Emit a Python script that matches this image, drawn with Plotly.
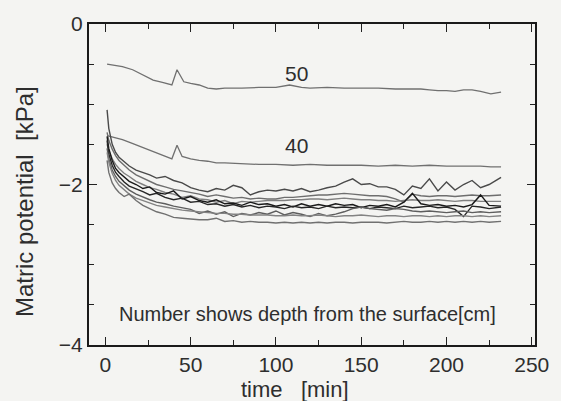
import plotly.graph_objects as go

# Matric potential at several depths (kPa) against elapsed time (min)

# depth 50 cm and 40 cm sensors
t_50 = [1, 5, 10, 16, 22, 28, 34, 39, 42, 46, 50, 55, 60, 65, 70, 75, 80, 90, 100, 108, 115, 120,
        130, 140, 150, 160, 170, 180, 185, 190, 195, 200, 205, 210, 215, 220, 226, 232]
v_50 = [-0.50, -0.51, -0.53, -0.57, -0.63, -0.70, -0.73, -0.76, -0.57, -0.72, -0.74, -0.76, -0.80, -0.81,
        -0.80, -0.80, -0.80, -0.79, -0.79, -0.76, -0.79, -0.80, -0.79, -0.80, -0.80, -0.80, -0.81, -0.81,
        -0.81, -0.82, -0.83, -0.83, -0.84, -0.82, -0.82, -0.84, -0.87, -0.85]

t_40 = [1, 5, 10, 15, 20, 25, 30, 35, 39, 42, 45, 50, 55, 60, 65, 70, 78, 90, 100, 110, 120, 130,
        140, 150, 160, 170, 180, 190, 200, 210, 220, 226, 232]
v_40 = [-1.39, -1.41, -1.44, -1.48, -1.52, -1.56, -1.60, -1.64, -1.68, -1.51, -1.65, -1.68, -1.70, -1.71,
        -1.73, -1.73, -1.74, -1.75, -1.75, -1.76, -1.75, -1.76, -1.76, -1.76, -1.77, -1.76, -1.77, -1.76,
        -1.77, -1.77, -1.77, -1.78, -1.78]

# shallower sensors share one sampling grid
t_shallow = [1, 2, 4, 6, 8, 11, 14, 18, 22, 26, 30, 35, 40, 45, 50, 55, 60, 65, 70, 75, 80, 85, 90, 95,
             100, 105, 110, 115, 120, 125, 130, 135, 140, 145, 150, 155, 160, 165, 170, 175, 180, 185,
             190, 195, 200, 205, 210, 215, 220, 225, 232]

v_a = [-1.07, -1.30, -1.50, -1.60, -1.66, -1.72, -1.77, -1.82, -1.85, -1.88, -1.92, -1.90, -1.95, -1.98,
       -2.04, -2.07, -2.09, -2.05, -2.07, -2.01, -2.04, -2.13, -2.09, -2.07, -2.08, -2.06, -2.08, -2.05,
       -2.09, -2.07, -2.04, -2.02, -1.97, -1.93, -2.00, -1.99, -2.03, -2.03, -2.06, -2.13, -2.02, -2.05,
       -1.93, -2.08, -1.97, -2.07, -2.00, -1.95, -2.04, -2.00, -1.91]
v_b = [-1.35, -1.45, -1.56, -1.64, -1.70, -1.76, -1.82, -1.88, -1.92, -1.97, -2.00, -2.03, -2.06, -2.08,
       -2.10, -2.12, -2.15, -2.13, -2.15, -2.17, -2.16, -2.18, -2.17, -2.18, -2.18, -2.16, -2.16, -2.15,
       -2.14, -2.13, -2.13, -2.12, -2.11, -2.12, -2.13, -2.14, -2.14, -2.15, -2.18, -2.22, -2.12, -2.14,
       -2.15, -2.14, -2.14, -2.15, -2.14, -2.13, -2.14, -2.14, -2.13]
v_c = [-1.50, -1.58, -1.68, -1.75, -1.80, -1.86, -1.90, -1.96, -2.00, -2.04, -2.06, -2.10, -2.12, -2.16,
       -2.14, -2.18, -2.19, -2.22, -2.20, -2.24, -2.21, -2.22, -2.21, -2.20, -2.20, -2.20, -2.19, -2.19,
       -2.18, -2.18, -2.19, -2.18, -2.17, -2.18, -2.19, -2.19, -2.20, -2.20, -2.21, -2.20, -2.19, -2.20,
       -2.20, -2.19, -2.20, -2.21, -2.20, -2.20, -2.21, -2.21, -2.21]
v_d = [-1.40, -1.55, -1.70, -1.80, -1.85, -1.90, -1.96, -2.00, -2.05, -2.03, -2.10, -2.12, -2.08, -2.18,
       -2.15, -2.20, -2.22, -2.19, -2.24, -2.23, -2.26, -2.22, -2.25, -2.24, -2.27, -2.25, -2.28, -2.24,
       -2.27, -2.25, -2.27, -2.24, -2.26, -2.25, -2.29, -2.26, -2.27, -2.25, -2.28, -2.22, -2.11, -2.24,
       -2.26, -2.25, -2.27, -2.26, -2.28, -2.25, -2.13, -2.26, -2.27]
v_e = [-1.45, -1.62, -1.76, -1.85, -1.90, -1.97, -2.02, -2.06, -2.09, -2.13, -2.11, -2.16, -2.19, -2.17,
       -2.22, -2.21, -2.25, -2.24, -2.27, -2.25, -2.28, -2.26, -2.29, -2.27, -2.28, -2.30, -2.27, -2.29,
       -2.28, -2.30, -2.27, -2.29, -2.28, -2.29, -2.28, -2.30, -2.28, -2.29, -2.30, -2.27, -2.29, -2.28,
       -2.27, -2.29, -2.28, -2.31, -2.40, -2.27, -2.28, -2.30, -2.28]
v_f = [-1.55, -1.68, -1.82, -1.90, -1.96, -2.02, -2.07, -2.12, -2.16, -2.19, -2.22, -2.24, -2.27, -2.29,
       -2.31, -2.36, -2.33, -2.37, -2.34, -2.40, -2.36, -2.38, -2.35, -2.37, -2.33, -2.38, -2.35, -2.37,
       -2.40, -2.36, -2.39, -2.37, -2.34, -2.30, -2.28, -2.30, -2.31, -2.32, -2.30, -2.31, -2.33, -2.34,
       -2.33, -2.34, -2.35, -2.34, -2.33, -2.35, -2.34, -2.35, -2.34]
v_g = [-1.60, -1.72, -1.86, -1.95, -2.01, -2.07, -2.12, -2.17, -2.20, -2.23, -2.26, -2.28, -2.30, -2.32,
       -2.33, -2.34, -2.35, -2.36, -2.36, -2.37, -2.37, -2.38, -2.38, -2.38, -2.39, -2.39, -2.38, -2.39,
       -2.39, -2.38, -2.39, -2.40, -2.39, -2.39, -2.38, -2.39, -2.40, -2.39, -2.39, -2.40, -2.39, -2.39,
       -2.40, -2.39, -2.40, -2.39, -2.39, -2.40, -2.39, -2.40, -2.39]
v_h = [-1.70, -1.85, -1.98, -2.05, -2.10, -2.15, -2.12, -2.20, -2.26, -2.30, -2.34, -2.37, -2.41, -2.42,
       -2.43, -2.44, -2.44, -2.42, -2.46, -2.45, -2.47, -2.46, -2.47, -2.47, -2.48, -2.47, -2.48, -2.47,
       -2.48, -2.47, -2.48, -2.47, -2.47, -2.48, -2.47, -2.47, -2.47, -2.48, -2.47, -2.46, -2.47, -2.47,
       -2.46, -2.47, -2.46, -2.47, -2.46, -2.47, -2.46, -2.47, -2.46]

shallow_series = [v_a, v_b, v_c, v_d, v_e, v_f, v_g, v_h]
shallow_colors = ["#4a4a4a", "#6e6e6e", "#808080", "#1a1a1a", "#262626", "#5e5e5e", "#838383", "#707070"]

depth_labels = ["50", "40"]

fig = go.Figure()

fig.add_trace(go.Scatter(x=t_50, y=v_50, mode="lines", line=dict(color="#707070", width=1.3),
                         showlegend=False, hoverinfo="skip"))
fig.add_trace(go.Scatter(x=t_40, y=v_40, mode="lines", line=dict(color="#707070", width=1.3),
                         showlegend=False, hoverinfo="skip"))
for vals, col in zip(shallow_series, shallow_colors):
    fig.add_trace(go.Scatter(x=t_shallow, y=vals, mode="lines", line=dict(color=col, width=1.4),
                             showlegend=False, hoverinfo="skip"))

font_family = "Liberation Sans, Arial, sans-serif"
ink = "#2e2e2e"

annotations = [
    dict(x=112, y=-0.62, xref="x", yref="y", text=depth_labels[0], showarrow=False,
         xanchor="center", yanchor="middle", font=dict(size=21, color=ink, family=font_family)),
    dict(x=112, y=-1.52, xref="x", yref="y", text=depth_labels[1], showarrow=False,
         xanchor="center", yanchor="middle", font=dict(size=21, color=ink, family=font_family)),
    dict(x=0.49, y=0.098, xref="paper", yref="paper", text="Number shows depth from the surface[cm]",
         showarrow=False, xanchor="center", yanchor="middle",
         font=dict(size=20, color=ink, family=font_family)),
    dict(x=0.461, y=-0.138, xref="paper", yref="paper", text="time&nbsp;&nbsp;&nbsp;[min]",
         showarrow=False, xanchor="center", yanchor="middle",
         font=dict(size=22, color=ink, family=font_family)),
    dict(x=-0.143, y=0.446, xref="paper", yref="paper", text="Matric potential&nbsp;&nbsp;[kPa]",
         showarrow=False, textangle=-90, xanchor="center", yanchor="middle",
         font=dict(size=24, color=ink, family=font_family)),
]

fig.update_layout(
    width=561, height=401,
    margin=dict(l=89, r=19, t=20, b=56),
    paper_bgcolor="#f4f4f2",
    plot_bgcolor="#f4f4f2",
    annotations=annotations,
    font=dict(family=font_family, color=ink, size=21),
    xaxis=dict(
        range=[-9.6, 251.9], tickvals=[0, 50, 100, 150, 200, 250],
        ticks="inside", ticklen=8, tickwidth=1.3, tickcolor="#222",
        minor=dict(tickvals=[25, 75, 125, 175, 225], ticks="inside", ticklen=5, tickwidth=1.2, tickcolor="#222"),
        showline=True, linecolor="#1a1a1a", linewidth=2, mirror="allticks",
        showgrid=False, zeroline=False, tickfont=dict(size=21, color=ink),
    ),
    yaxis=dict(
        range=[-4, 0], tickvals=[0, -2, -4],
        ticks="inside", ticklen=8, tickwidth=1.3, tickcolor="#222",
        minor=dict(tickvals=[-0.5, -1, -1.5, -2.5, -3, -3.5], ticks="inside", ticklen=5, tickwidth=1.2, tickcolor="#222"),
        showline=True, linecolor="#1a1a1a", linewidth=2, mirror="allticks",
        showgrid=False, zeroline=False, tickfont=dict(size=21, color=ink),
    ),
)

fig.write_html("out.html")
